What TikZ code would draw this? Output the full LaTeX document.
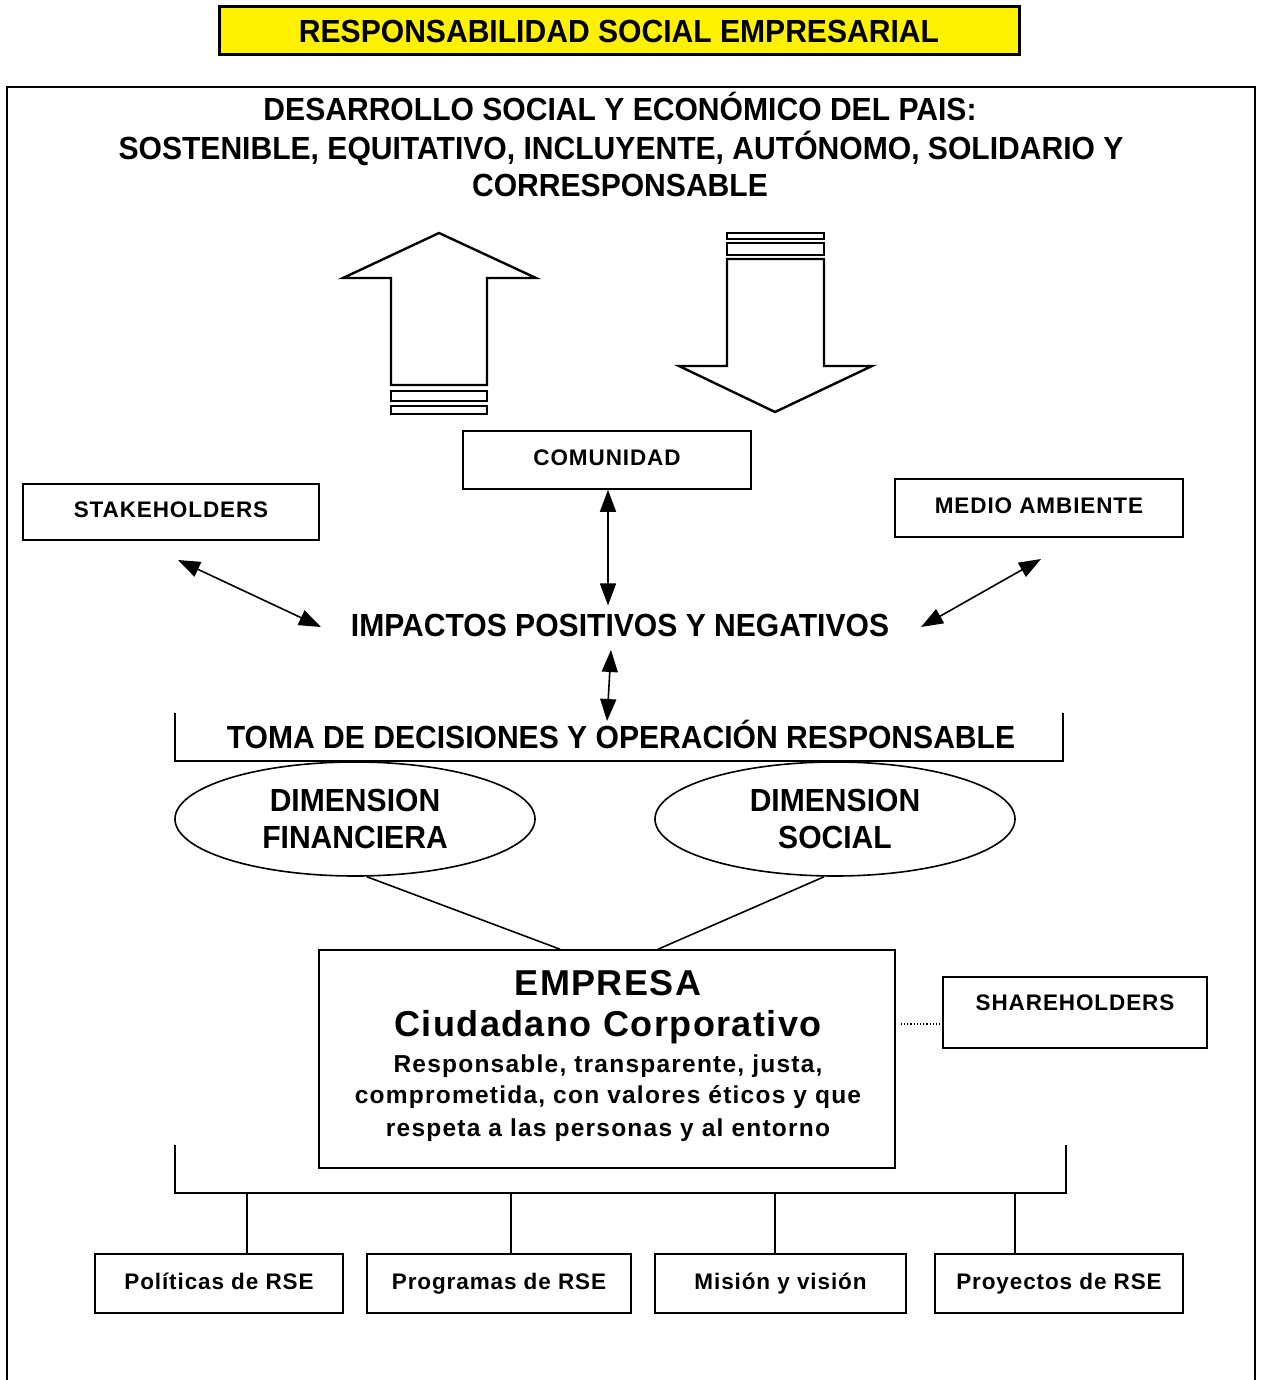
\documentclass[tikz,border=0pt]{standalone}
\usepackage{fontspec}
\setmainfont{Liberation Sans}
\newfontfamily\headfont{Liberation Sans}[FakeStretch=0.94]
\newfontfamily\spfont{Liberation Sans}[LetterSpace=4]
\newfontfamily\empfont{Liberation Sans}[LetterSpace=5]
\usetikzlibrary{arrows.meta,shapes.geometric,calc}
\tikzset{
  heading/.style={font=\headfont\bfseries\fontsize{32}{36}\selectfont, inner sep=0pt, align=center},
  smallbox/.style={draw, line width=1.6pt, font=\spfont\bfseries\fontsize{22.5}{24}\selectfont, inner sep=0pt,
    text height=16pt, text depth=4.5pt},
  dimell/.style={draw, ellipse, line width=1.6pt, minimum width=360pt, minimum height=114pt, inner sep=0pt,
    align=center, font=\headfont\bfseries\fontsize{32}{37}\selectfont},
  bigarrow/.style={draw, line width=2.4pt, line join=miter},
  dbl/.style={line width=1.6pt, {Triangle[length=22pt,width=16pt]}-{Triangle[length=22pt,width=16pt]}},
  conn/.style={line width=1.6pt},
  emptext/.style={font=\empfont\bfseries\fontsize{24.5}{28}\selectfont, inner sep=0pt, anchor=base}
}
\begin{document}
\begin{tikzpicture}[x=1pt,y=-1pt]
\useasboundingbox (0,0) rectangle (1262,1380);
% title
\node[draw, line width=3pt, fill=yellow, minimum width=800pt, minimum height=48pt, inner sep=0pt,
  font=\headfont\bfseries\fontsize{32}{36}\selectfont] (title) at (619,31) {RESPONSABILIDAD SOCIAL EMPRESARIAL};
% outer frame
\draw[line width=2pt] (7,1400) -- (7,87) -- (1255,87) -- (1255,1400);
% heading
\node[heading, anchor=base] (h1) at (620,120.5) {DESARROLLO SOCIAL Y ECONÓMICO DEL PAIS:};
\node[heading, anchor=base] (h2) at (621,159.5) {SOSTENIBLE, EQUITATIVO, INCLUYENTE, AUTÓNOMO, SOLIDARIO Y};
\node[heading, anchor=base] (h3) at (620,196.5) {CORRESPONSABLE};
% up arrow
\draw[bigarrow] (439,233) -- (536,278) -- (487,278) -- (487,385) -- (391,385) -- (391,278) -- (343,278) -- cycle;
\draw[bigarrow] (391,391) rectangle (487,401);
\draw[bigarrow] (391,406) rectangle (487,414);
% down arrow
\draw[bigarrow] (727,233) rectangle (824,239);
\draw[bigarrow] (727,243) rectangle (824,255);
\draw[bigarrow] (727,259) -- (824,259) -- (824,366) -- (872,366) -- (775,412) -- (679,366) -- (727,366) -- cycle;
% boxes
\node[smallbox, minimum width=288pt, minimum height=58pt] (com) at (607,460) {COMUNIDAD};
\node[smallbox, minimum width=296pt, minimum height=56pt] (stake) at (171,512) {STAKEHOLDERS};
\node[smallbox, minimum width=288pt, minimum height=58pt] (medio) at (1039,508) {MEDIO AMBIENTE};
% impactos
\node[heading, inner sep=8pt] (imp) at (620,625) {IMPACTOS POSITIVOS Y NEGATIVOS};
\coordinate (s1) at (178,560);
\coordinate (s2) at (321,627);
\coordinate (m1) at (1041,559);
\coordinate (m2) at (921,627);
\draw[dbl] (com.south -| 608,0) -- (imp.north -| 608,0);
\draw[dbl] (s1) -- (s2);
\draw[dbl] (m1) -- (m2);
% toma
\node[heading, anchor=base] (toma) at (621,748.5) {TOMA DE DECISIONES Y OPERACIÓN RESPONSABLE};
\coordinate (t1) at (611,650);
\coordinate (t2) at (607,721);
\draw[dbl] (t1) -- (t2);
\draw[conn] (175,713) -- (175,761) -- (1063,761) -- (1063,713);
% ellipses
\node[dimell] (dfin) at (355,819) {DIMENSION\\FINANCIERA};
\node[dimell] (dsoc) at (835,819) {DIMENSION\\SOCIAL};
% empresa
\node[draw, line width=1.6pt, minimum width=576pt, minimum height=218pt, inner sep=0pt] (emp) at (607,1059) {};
\draw[conn] ($(dfin.south)+(12,0)$) -- ($(emp.north)+(-47,0)$);
\draw[conn] ($(dsoc.south)+(-11,0)$) -- ($(emp.north)+(51,0)$);
\node[font=\spfont\bfseries\fontsize{36}{40}\selectfont, inner sep=0pt] (e1) at (608,983) {EMPRESA};
\node[font=\spfont\bfseries\fontsize{36}{40}\selectfont, inner sep=0pt] (e2) at (608,1027) {Ciudadano Corporativo};
\node[emptext] (e3) at (608,1072.5) {Responsable, transparente, justa,};
\node[emptext] (e4) at (608,1103) {comprometida, con valores éticos y que};
\node[emptext] (e5) at (608,1136.5) {respeta a las personas y al entorno};
% shareholders
\node[draw, line width=1.6pt, minimum width=264pt, minimum height=71pt, inner sep=0pt] (share) at (1075,1012.5) {};
\node[font=\spfont\bfseries\fontsize{22.5}{24}\selectfont, inner sep=0pt] (sharet) at (1075,1003) {SHAREHOLDERS};
\draw[line width=1.2pt, dotted] ($(emp.east)+(5,-35)$) -- ($(share.west)+(0,11.5)$);
% bottom bracket
\draw[conn] (175,1145) -- (175,1193) -- (1066,1193) -- (1066,1145);
\node[smallbox, minimum width=248pt, minimum height=59pt] (pol) at (219,1283.5) {Políticas de RSE};
\node[smallbox, minimum width=264pt, minimum height=59pt] (prog) at (499,1283.5) {Programas de RSE};
\node[smallbox, minimum width=251pt, minimum height=59pt] (mis) at (780.5,1283.5) {Misión y visión};
\node[smallbox, minimum width=248pt, minimum height=59pt] (proy) at (1059,1283.5) {Proyectos de RSE};
\coordinate (b1) at (247,1193);
\coordinate (b2) at (511,1193);
\coordinate (b3) at (775,1193);
\coordinate (b4) at (1015,1193);
\draw[conn] (b1) -- (b1 |- pol.north);
\draw[conn] (b2) -- (b2 |- prog.north);
\draw[conn] (b3) -- (b3 |- mis.north);
\draw[conn] (b4) -- (b4 |- proy.north);
\end{tikzpicture}
\end{document}
